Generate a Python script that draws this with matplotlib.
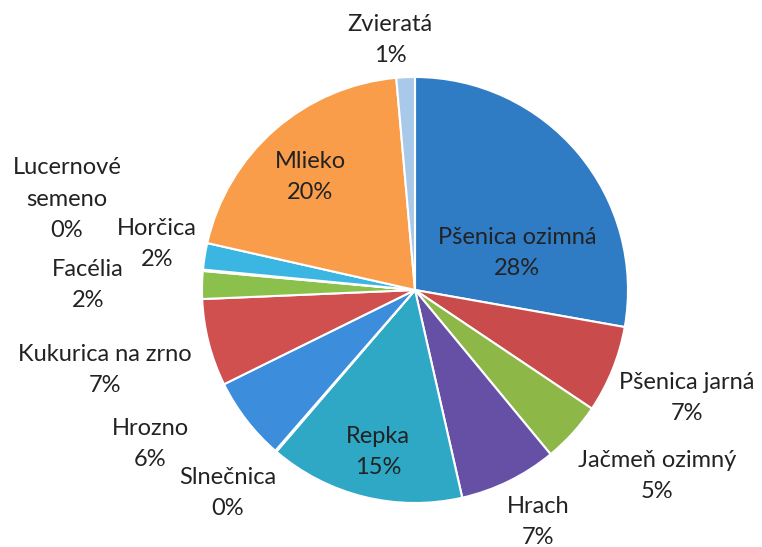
import matplotlib
matplotlib.use("Agg")
import matplotlib.pyplot as plt

# slices clockwise from 12 o'clock
names = ["Pšenica ozimná", "Pšenica jarná", "Jačmeň ozimný", "Hrach", "Repka",
         "Slnečnica", "Hrozno", "Kukurica na zrno", "Facélia", "Lucernové\nsemeno",
         "Horčica", "Mlieko", "Zvieratá"]
shares = [27.7, 6.6, 4.6, 7.4, 14.8, 0.1, 6.3, 6.6, 2.1, 0.1, 2.0, 20.0, 1.4]
colors = ["#2F7CC5", "#C94B4B", "#8DB847", "#6650A6", "#2FA8C6", "#3FA0D8",
          "#3C8EDC", "#D04F4F", "#8CC04C", "#E88A3C", "#3BB6E2", "#F99D4A", "#A9C9EA"]

# label block centres in pixels (x, y from top)
label_px = [(517, 253), (687, 398), (657, 476), (538, 522), (378, 452),
            (228, 493), (150, 444), (105, 370), (88, 285), (67, 199),
            (157, 244), (310, 177), (390, 40)]

W, H = 762, 547
cx, cy, R = 415, 290, 213

fig = plt.figure(figsize=(W / 100, H / 100), dpi=100)
ax = fig.add_axes([0, 0, 1, 1])
ax.pie(shares, colors=colors, startangle=90, counterclock=False, radius=1,
       wedgeprops=dict(edgecolor="white", linewidth=1.5))
ax.set_aspect("auto")
ax.set_xlim(-cx / R, (W - cx) / R)
ax.set_ylim(-(H - cy) / R, cy / R)
ax.axis("off")

total = sum(shares)
for name, v, (px, py) in zip(names, shares, label_px):
    pct = round(v / total * 100)
    ax.text((px - cx) / R, (cy - py) / R, f"{name}\n{pct}%", ha="center", va="center",
            fontsize=17, family=["Lato", "DejaVu Sans"], color="#222222",
            linespacing=1.6)

fig.savefig("out.png", dpi=100)
